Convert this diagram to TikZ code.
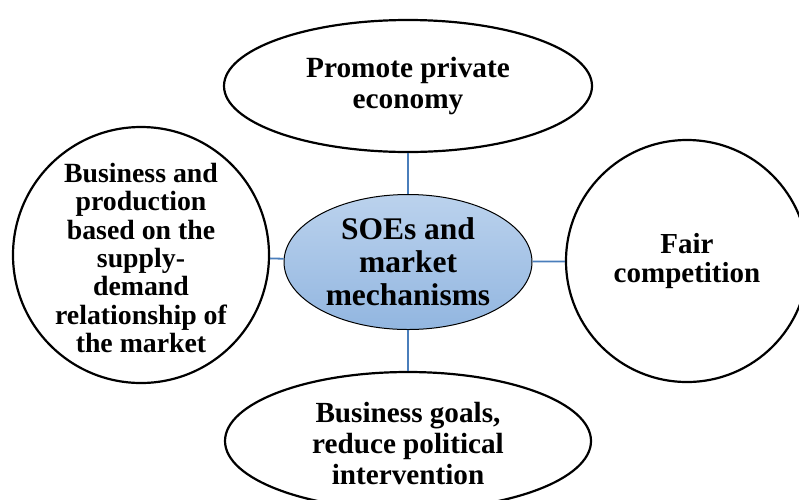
\documentclass[tikz,border=0pt]{standalone}
\usepackage{fontspec}
\setmainfont{Liberation Serif}
\usetikzlibrary{shapes.geometric}
\definecolor{linkblue}{HTML}{4A7EBB}
\definecolor{hubtop}{HTML}{BBD2ED}
\definecolor{hubbot}{HTML}{92B6E0}
\begin{document}
\begin{tikzpicture}[x=1pt,y=-1pt,
  outer/.style={draw=black, line width=2.2pt, fill=white, inner sep=0pt},
  hub/.style={ellipse, draw=black, line width=1pt, top color=hubtop,
    bottom color=hubbot, minimum width=248pt, minimum height=135pt, inner sep=0pt},
  link/.style={draw=linkblue, line width=1.8pt},
  lbl/.style={align=center, inner sep=0pt}]
\useasboundingbox (0,0) rectangle (799,499);
\clip (0,0) rectangle (799,499);

% shapes
\node[hub] (hub) at (408,262) {};
\node[outer, ellipse, minimum width=368pt, minimum height=132pt] (top) at (408,86) {};
\node[outer, circle, minimum size=256pt] (left) at (141,255) {};
\node[outer, circle, minimum size=242pt] (right) at (687,261) {};
\node[outer, ellipse, minimum width=366pt, minimum height=138pt] (bottom) at (408,441) {};

% connectors
\draw[link] (top) -- (hub);
\draw[link] (left) -- (hub);
\draw[link] (right) -- (hub);
\draw[link] (bottom) -- (hub);

% labels (yshift is in page direction: negative moves down)
\node[lbl, font=\bfseries\fontsize{31.5}{33}\selectfont] (hubT) at (hub.center) {SOEs and\\market\\mechanisms};
\node[lbl, font=\bfseries\fontsize{29.3}{31}\selectfont] (topT) at (top.center) {Promote private\\economy};
\node[lbl, font=\bfseries\fontsize{27.8}{28.3}\selectfont] (leftT) at ([yshift=-3pt]left.center) {Business and\\production\\based on the\\supply-\\demand\\relationship of\\the market};
\node[lbl, font=\bfseries\fontsize{29}{29}\selectfont] (rightT) at (right.center) {Fair\\competition};
\node[lbl, font=\bfseries\fontsize{29.2}{31}\selectfont] (bottomT) at ([yshift=-2pt]bottom.center) {Business goals,\\reduce political\\intervention};
\end{tikzpicture}
\end{document}
